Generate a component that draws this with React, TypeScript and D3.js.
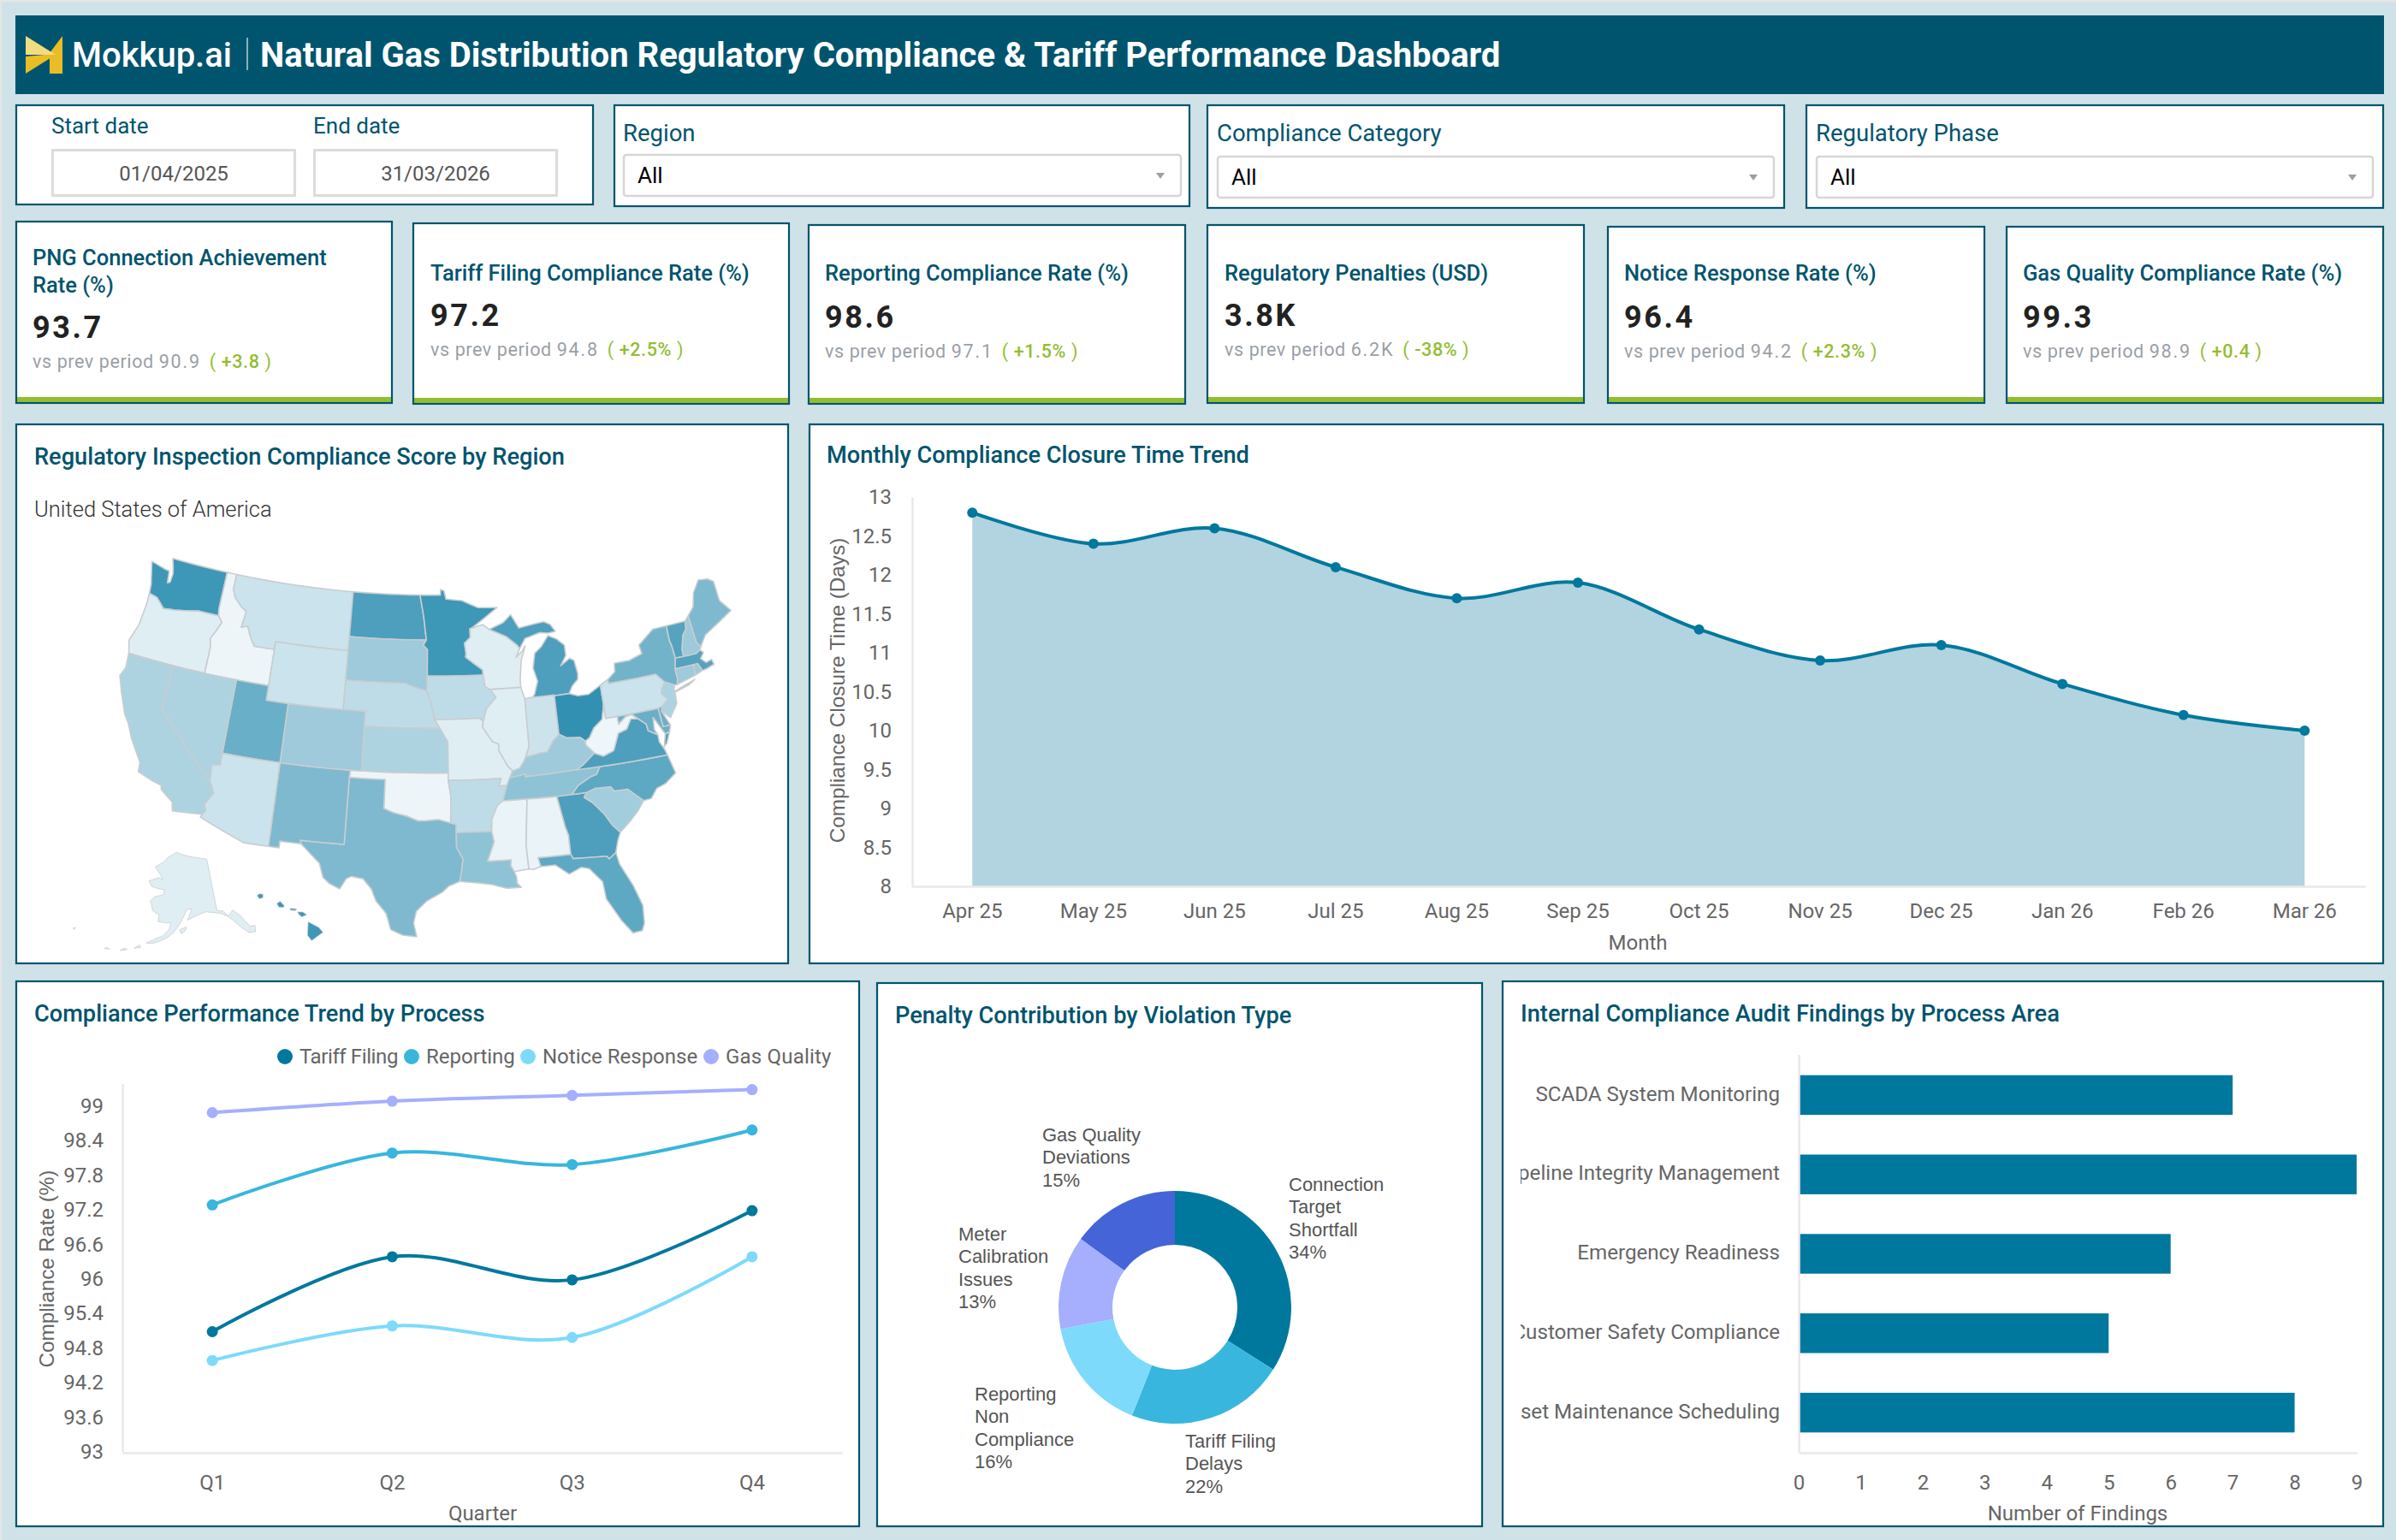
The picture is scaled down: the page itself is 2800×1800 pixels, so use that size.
import * as d3 from "d3";
import React, { useEffect, useRef } from "react";

// ---- data ----
const months = ["Apr 25", "May 25", "Jun 25", "Jul 25", "Aug 25", "Sep 25", "Oct 25", "Nov 25", "Dec 25", "Jan 26", "Feb 26", "Mar 26"];
const closureDays = [12.8, 12.4, 12.6, 12.1, 11.7, 11.9, 11.3, 10.9, 11.1, 10.6, 10.2, 10.0];
const closureTicks = [8, 8.5, 9, 9.5, 10, 10.5, 11, 11.5, 12, 12.5, 13];

const quarters = ["Q1", "Q2", "Q3", "Q4"];
const processNames = ["Tariff Filing", "Reporting", "Notice Response", "Gas Quality"];
const tariffFiling = [95.1, 96.4, 96.0, 97.2];
const reporting = [97.3, 98.2, 98.0, 98.6];
const noticeResponse = [94.6, 95.2, 95.0, 96.4];
const gasQuality = [98.9, 99.1, 99.2, 99.3];
const rateTicks = [93, 93.6, 94.2, 94.8, 95.4, 96, 96.6, 97.2, 97.8, 98.4, 99];

const violationLabels = [
  ["Connection", "Target", "Shortfall"],
  ["Tariff Filing", "Delays"],
  ["Reporting", "Non", "Compliance"],
  ["Meter", "Calibration", "Issues"],
  ["Gas Quality", "Deviations"],
];
const penaltyShare = [34, 22, 16, 13, 15];

const processAreas = ["SCADA System Monitoring", "Pipeline Integrity Management", "Emergency Readiness", "Customer Safety Compliance", "Asset Maintenance Scheduling"];
const findings = [7, 9, 6, 5, 8];
const findingTicks = [0, 1, 2, 3, 4, 5, 6, 7, 8, 9];

const kpiTitles = [
  ["PNG Connection Achievement", "Rate (%)"],
  ["Tariff Filing Compliance Rate (%)"],
  ["Reporting Compliance Rate (%)"],
  ["Regulatory Penalties (USD)"],
  ["Notice Response Rate (%)"],
  ["Gas Quality Compliance Rate (%)"],
];
const kpiValues = ["93.7", "97.2", "98.6", "3.8K", "96.4", "99.3"];
const kpiPrevious = ["90.9", "94.8", "97.1", "6.2K", "94.2", "98.9"];
const kpiChanges = ["+3.8", "+2.5%", "+1.5%", "-38%", "+2.3%", "+0.4"];

const stateCodes = ["WA", "OR", "ID", "MT", "WY", "ND", "SD", "NE", "KS", "OK", "TX", "NM", "CO", "UT", "AZ", "NV", "CA", "MN", "IA", "MO", "AR", "LA", "WI", "IL", "IN", "MI", "OH", "KY", "TN", "MS", "AL", "GA", "FL", "SC", "NC", "VA", "WV", "PA", "NY", "VT", "NH", "ME", "MA", "RI", "CT", "NJ", "DE", "MD", "AK", "HI"];
const stateScores = [95.3, 85, 84.1, 86.3, 86.3, 94.3, 89.2, 87.1, 88.2, 84.1, 91.2, 91.2, 89.2, 92.4, 86.3, 88.2, 88.2, 95.3, 87.1, 85, 87.1, 90.2, 85, 85, 86.2, 94.3, 96, 89.2, 90.2, 84.3, 84.3, 94.3, 93.3, 88.9, 93.3, 94.3, 84, 86.3, 92, 93.9, 89.2, 91.2, 93.9, 89.2, 89.2, 88.2, 92.4, 92.4, 85, 95.3];

// state outlines, simplified, as west longitude + latitude ("|" separates islands)
const stateShapes: Record<string, string> = {
  WA: "124.7 48.4,123.2 48.15,122.75 48.1,122.6 47.3,122.35 47.4,122.3 48,122.5 48.5,122.75 49,117.03 49,117.04 46.42,116.92 45.99,118.98 46,119.3 45.93,121.2 45.65,122.3 45.55,122.8 45.9,123.2 46.15,124 46.27,124.1 46.9",
  OR: "124 46.27,123.2 46.15,122.8 45.9,122.3 45.55,121.2 45.65,119.3 45.93,118.98 46,116.92 45.99,116.46 45.6,116.85 44.95,117.22 44.35,117.03 43.8,117.03 42,124.21 42,124.55 42.84,124.1 44,123.96 45.5",
  ID: "117.03 49,116.05 49,116.05 47.98,115.72 47.44,114.95 46.93,114.35 46.65,114.55 45.56,113.95 45.7,113.45 44.95,113 44.45,111.05 44.47,111.05 42,117.03 42,117.03 43.8,117.22 44.35,116.85 44.95,116.46 45.6,116.92 45.99,117.04 46.42",
  MT: "116.05 49,104.05 49,104.05 45,111.05 45,111.05 44.47,113 44.45,113.45 44.95,113.95 45.7,114.55 45.56,114.35 46.65,114.95 46.93,115.72 47.44,116.05 47.98",
  WY: "111.05 45,104.05 45,104.05 41,111.05 41",
  ND: "104.05 49,97.23 49,96.85 47.6,96.56 45.94,104.05 45.94",
  SD: "104.05 45.94,96.56 45.94,96.85 45.6,96.45 45.3,96.45 43.5,96.5 42.5,97.9 42.8,98.5 43,104.05 43",
  NE: "104.05 43,98.5 43,97.9 42.8,96.5 42.5,96.1 41.7,95.9 41,95.77 40.58,95.31 40,102.05 40,102.05 41,104.05 41",
  KS: "102.05 40,95.31 40,94.62 39.1,94.62 37,102.05 37",
  OK: "103 37,94.62 37,94.62 36.5,94.43 35.4,94.48 33.64,95.5 33.88,96.5 33.8,97.2 33.8,98.1 34.1,99.2 34.3,100 34.56,100 36.5,103.04 36.5",
  TX: "103.04 36.5,100 36.5,100 34.56,99.2 34.3,98.1 34.1,97.2 33.8,96.5 33.8,95.5 33.88,94.48 33.64,94.04 33.55,94.04 33,94.04 32,93.55 31.2,93.7 30.3,93.85 29.7,94.7 29.4,95.2 29,96.4 28.4,97.2 27.7,97.4 26.9,97.15 25.96,98.2 26.05,99.1 26.4,99.5 27.5,100.3 28.3,100.7 29.1,101.4 29.77,102.3 29.88,102.7 29.7,103.15 28.98,104 29.3,104.5 29.65,104.9 30.6,106.5 31.78,106.6 32,103.06 32",
  NM: "109.05 37,103 37,103.04 36.5,103.06 32,106.6 32,106.5 31.78,108.2 31.78,108.2 31.33,109.05 31.33",
  CO: "109.05 41,102.05 41,102.05 37,109.05 37",
  UT: "114.05 42,111.05 42,111.05 41,109.05 41,109.05 37,114.05 37",
  AZ: "114.05 37,109.05 37,109.05 31.33,111.07 31.33,114.81 32.5,114.72 32.72,114.5 33,114.72 33.4,114.13 34.26,114.63 35,114.75 36.1,114.05 36.2",
  NV: "120 42,114.05 42,114.05 36.2,114.75 36.1,114.63 35,120 39",
  CA: "124.21 42,120 42,120 39,114.63 35,114.13 34.26,114.72 33.4,114.5 33,114.72 32.72,117.13 32.53,117.3 33.1,118.4 33.75,118.5 34.03,119.2 34.15,120.6 34.55,120.65 35.15,121.9 36.6,122.5 37.5,123 38,123.8 39.3,124.4 40.4,124.1 41",
  MN: "97.23 49,95.15 49,95.15 49.38,94.8 49.3,94.6 48.72,93 48.6,91.4 48.07,89.5 48,92 46.75,92.29 46.66,92.29 46.07,92.87 45.7,92.75 45,92.8 44.75,91.25 43.85,91.22 43.5,96.45 43.5,96.45 45.3,96.85 45.6,96.56 45.94,96.85 47.6",
  IA: "96.45 43.5,91.22 43.5,91.1 42.7,90.64 42.5,90.15 41.95,91.1 41.2,91.42 40.38,91.73 40.61,95.77 40.58,95.9 41,96.1 41.7,96.5 42.5",
  MO: "95.77 40.58,91.73 40.61,91.42 40.38,91.5 40,90.7 39,90.15 38.8,90.2 38.4,89.5 37.3,89.1 36.95,89.4 36.5,89.7 36,90.37 36,90.15 36.5,94.62 36.5,94.62 39.1,95.31 40",
  AR: "94.62 36.5,90.15 36.5,90.37 36,89.7 36,90.1 35,90.6 34.7,91.1 33.8,91.17 33,94.04 33,94.04 33.55,94.48 33.64,94.43 35.4",
  LA: "94.04 33,91.17 33,91 32.3,91.6 31,89.73 31,89.8 30.6,89.55 30.2,89.4 29.8,89.4 29.4,89.1 29.1,90.2 29.1,91.3 29.4,92.3 29.55,93.85 29.7,93.7 30.3,93.55 31.2,94.04 32",
  MS: "90.1 35,88.2 35,88.1 34.9,88.47 31.9,88.4 30.3,89.55 30.2,89.8 30.6,89.73 31,91.6 31,91 32.3,91.17 33,91.1 33.8,90.6 34.7",
  AL: "88.2 35,85.6 34.98,85.18 32.87,85 32.3,85 31,87.6 31,87.45 30.4,88 30.25,88.4 30.3,88.47 31.9,88.1 34.9",
  GA: "85.6 34.98,83.1 35,83.35 34.7,82.75 34.3,81.9 33.4,81.4 32.6,80.85 32.03,81.15 31.5,81.45 30.72,82.05 30.36,82.2 30.57,84.86 30.7,85 31,85 32.3,85.18 32.87",
  FL: "87.6 31,85 31,84.86 30.7,82.2 30.57,82.05 30.36,81.45 30.72,81.3 29.9,80.55 28.4,80.05 26.9,80.15 25.7,80.4 25.2,81.1 25.15,81.8 26.1,82.7 27.7,82.8 28.9,83.7 29.9,84.3 30.05,85.3 29.7,86.3 30.4,87.45 30.4",
  SC: "83.1 35,82.3 35.2,81.05 35.15,80.8 34.82,79.67 34.8,78.55 33.86,79.2 33.2,80 32.6,80.85 32.03,81.4 32.6,81.9 33.4,82.75 34.3,83.35 34.7",
  NC: "84.32 35,83.1 35,82.3 35.2,81.05 35.15,80.8 34.82,79.67 34.8,78.55 33.86,77.9 33.9,77.3 34.5,76.5 34.7,75.5 35.25,75.85 36.55,81.68 36.59,82.05 36.1,82.6 36,83.7 35.55",
  TN: "90.1 35,88.2 35,85.6 34.98,84.32 35,83.7 35.55,82.6 36,82.05 36.1,81.68 36.59,83.68 36.6,88.07 36.5,88.07 36.68,89.4 36.5,89.7 36",
  KY: "89.4 36.5,88.07 36.68,88.07 36.5,83.68 36.6,83.1 36.85,81.97 37.54,82.6 38.17,82.6 38.42,83 38.7,84.2 38.8,84.82 39.1,85.4 38.7,86 38,86.5 38,87.9 37.8,88.1 37.5,88.5 37.1,89.1 36.95",
  VA: "83.68 36.6,81.68 36.59,75.85 36.55,76 37,76.3 37.5,76.3 38,77.05 38.4,77.1 38.85,77.72 39.32,78.35 39.4,78.87 38.77,79.65 38.6,80.3 37.5,81.25 37.25,81.97 37.54,83.1 36.85|75.95 37.15,75.65 37.95,75.25 38.03,75.7 37.3",
  WV: "81.97 37.54,81.25 37.25,80.3 37.5,79.65 38.6,78.87 38.77,78.35 39.4,77.72 39.32,78.2 39.68,78.8 39.6,79.48 39.21,79.48 39.72,80.52 39.72,80.52 40.64,80.85 39.7,81.7 39.2,82.2 38.6,82.6 38.42,82.6 38.17",
  OH: "84.82 41.7,83.45 41.73,82.7 41.5,81.7 41.5,80.52 41.98,80.52 40.64,80.85 39.7,81.7 39.2,82.2 38.6,82.6 38.42,83 38.7,84.2 38.8,84.82 39.1",
  IN: "87.52 41.71,87.2 41.75,86.8 41.76,84.82 41.76,84.82 39.1,85.4 38.7,86 38,86.5 38,87.9 37.8,87.53 38.5,87.53 39.35",
  IL: "90.64 42.5,87.8 42.5,87.6 41.9,87.52 41.71,87.53 39.35,87.53 38.5,87.9 37.8,88.1 37.5,88.5 37.1,89.1 36.95,89.5 37.3,90.2 38.4,90.15 38.8,90.7 39,91.5 40,91.42 40.38,91.1 41.2,90.15 41.95",
  WI: "92.29 46.66,91 46.9,90.4 46.55,88.8 46,87.8 45.35,87.6 45.1,88 44.55,87.4 44.9,87.05 45.25,87.55 44.3,87.8 43,87.8 42.5,90.64 42.5,91.1 42.7,91.22 43.5,91.25 43.85,92.8 44.75,92.75 45,92.87 45.7,92.29 46.07",
  MI: "86.8 41.76,84.82 41.76,84.82 41.7,83.45 41.73,83.1 42.2,82.5 42.6,82.42 43,82.6 43.9,83 44.07,83.9 43.65,83.3 44.3,83.3 45,84 45.5,84.75 45.78,85.5 45.1,86.2 44.7,86.5 43.7,86.2 42.8,86.6 41.95|90.4 46.55,89 46.95,88.2 47.45,87.5 46.5,86.2 46.65,85 46.75,84.4 46.5,84 46,84.75 45.95,85.5 46.05,86.5 45.85,87 45.75,87.6 45.1,87.8 45.35,88.8 46",
  PA: "80.52 41.98,79.76 42.27,79.76 42,75.35 42,74.7 41.35,75.1 40.95,75.2 40.65,74.75 40.2,75.4 39.8,75.8 39.72,79.48 39.72,80.52 39.72",
  NY: "79.76 42.27,79 42.7,78.9 43.27,77.5 43.27,76.2 43.55,76.3 44.15,74.7 45,73.35 45.01,73.4 44,73.3 43.6,73.25 42.75,73.5 42.05,73.5 41.3,73.65 41,73.9 41,74.7 41.35,75.35 42,79.76 42|74 40.6,72 41.05,72.6 40.8,73.9 40.55",
  VT: "73.35 45.01,71.5 45.01,71.6 44.5,72.05 44.1,72.45 43.2,72.46 42.73,73.25 42.75,73.3 43.6,73.4 44",
  NH: "71.5 45.01,71.08 45.3,70.98 43.4,70.7 43.07,70.85 42.87,71.3 42.7,72.46 42.73,72.45 43.2,72.05 44.1,71.6 44.5",
  ME: "71.08 45.3,70.4 45.8,70 46.7,69.2 47.45,68.3 47.35,67.8 47.07,67.78 45.7,67 44.85,68.5 44.3,70 43.75,70.7 43.07,70.98 43.4",
  MA: "73.5 42.05,73.25 42.75,72.46 42.73,71.3 42.7,70.85 42.87,70.6 42.65,71 42.3,70.6 41.95,70.05 42.05,69.95 41.7,70.65 41.55,71.12 41.5,71.38 42.02,71.8 42.02",
  RI: "71.8 42.02,71.38 42.02,71.12 41.5,71.85 41.32",
  CT: "73.5 42.05,71.8 42.02,71.85 41.32,73.65 41,73.5 41.3",
  NJ: "74.7 41.35,73.9 41,74.05 40.7,74 40.45,74.1 39.75,74.9 38.95,75.55 39.5,75.4 39.8,74.75 40.2,75.2 40.65,75.1 40.95",
  DE: "75.8 39.72,75.4 39.8,75.55 39.5,75.05 38.45,75.7 38.46",
  MD: "79.48 39.72,75.8 39.72,75.7 38.46,75.05 38.45,75.25 38.03,75.65 37.95,76.2 38.9,76.4 39.2,76.5 38.4,76.3 38,77.05 38.4,77.1 38.85,77.72 39.32,78.2 39.68,78.8 39.6,79.48 39.21",
  AK: "141 69.65,141 60.3,139 60,137.5 58.9,135.5 59.7,133.5 58.4,131.5 56,130 55.9,130.5 54.8,132.5 55,134.5 56.5,136.5 58.1,138 59,140 59.7,142 60,145 60.4,148 60,149.5 59.7,151.8 59.2,150 61.2,152 61,153.5 59.5,154.5 58.5,156.5 57,158.5 56,161 55.2,163 54.7,164.8 54.6,162 55.7,160 56.2,158 57.5,157.5 58.7,159 58.6,162 58.7,162 59.9,164.5 60.5,165.2 61.5,166 62,164.5 63,161 63.6,161 64.5,163 64.5,166.5 64.7,168 65.6,164 66.5,162 66.2,163.7 67.1,166.5 68.3,163 69.3,161 70.3,156.6 71.35,152 70.8,148 70.4,144 70|154.5 57.5,152.3 58,152.6 57.3,154 56.8|168.2 53.3,166.2 53.7,166.8 54|172 52.3,170 52.8,171 52.9|176.5 51.8,175 52,176 52.1|187.2 52.9,186.6 53.1,186.9 52.7",
  HI: "159.75 22.1,159.55 22.23,159.3 22.2,159.3 21.95,159.55 21.88|158.25 21.55,158 21.7,157.7 21.4,157.75 21.27,158.1 21.3|157.25 21.2,156.75 21.17,156.85 21.05,157.25 21.08|156.7 20.95,156.3 20.95,156 20.75,156.4 20.6,156.6 20.8|155.9 20.25,155.1 19.85,154.8 19.5,155.65 18.92,155.95 19.3",
};

// ---- colours ----
const TEAL = "#00546e";
const DEEP = "#00789e";
const seriesColors = [DEEP, "#38b6dd", "#7ddafa", "#a5affe"];
const sliceColors = [DEEP, "#38b6dd", "#7ddafa", "#a5affe", "#4464d8"];
const GREY = "#666666";
const AXIS = "#e8e8e8";
const ROBOTO = "Roboto, sans-serif";
const LIBERATION = "'Liberation Sans', sans-serif";

// ---- page layout (x0, y0, x1, y1) ----
const kpiBoxes = [
  [18, 258, 459, 472],
  [482, 260, 923, 473],
  [944, 262, 1386, 473],
  [1410, 262, 1852, 472],
  [1878, 264, 2320, 472],
  [2344, 264, 2786, 472],
];
const kpiRows = [
  { x: 38, title: 310, value: 395, sub: 430 },
  { x: 503, title: 328, value: 381, sub: 416 },
  { x: 964, title: 328, value: 383, sub: 418 },
  { x: 1431, title: 328, value: 381, sub: 416 },
  { x: 1898, title: 328, value: 383, sub: 418 },
  { x: 2364, title: 328, value: 383, sub: 418 },
];
const dropBoxes = [
  { label: "Region", x0: 717, x1: 1391, y1: 242, labelX: 728, boxX: 729, boxX1: 1380, boxY: 181, boxY1: 229, baseline: 165 },
  { label: "Compliance Category", x0: 1410, x1: 2086, y1: 244, labelX: 1422, boxX: 1423, boxX1: 2073, boxY: 183, boxY1: 231, baseline: 165 },
  { label: "Regulatory Phase", x0: 2110, x1: 2786, y1: 244, labelX: 2122, boxX: 2123, boxX1: 2773, boxY: 183, boxY1: 231, baseline: 165 },
];
const donutLabelAnchors = [
  [1506, 1392],
  [1385, 1692],
  [1139, 1637],
  [1120, 1450],
  [1218, 1334],
];

type Sel = d3.Selection<any, unknown, null, undefined>;

const label = (
  g: Sel,
  x: number,
  y: number,
  str: string,
  size: number,
  fill: string,
  weight: number | string = 400,
  family: string = ROBOTO,
  anchor: string = "start",
) =>
  g
    .append("text")
    .attr("x", x)
    .attr("y", y)
    .attr("text-anchor", anchor)
    .attr("fill", fill)
    .style("font-family", family)
    .style("font-size", `${size}px`)
    .style("font-weight", weight)
    .text(str);

const panel = (g: Sel, x0: number, y0: number, x1: number, y1: number) =>
  g
    .append("rect")
    .attr("x", x0 + 1)
    .attr("y", y0 + 1)
    .attr("width", x1 - x0 - 2)
    .attr("height", y1 - y0 - 2)
    .attr("fill", "#ffffff")
    .attr("stroke", TEAL)
    .attr("stroke-width", 2.2);

const styleAxis = (axis: Sel, size = 24) => {
  axis.select(".domain").attr("stroke", AXIS).attr("stroke-width", 2.5);
  axis.selectAll("line").remove();
  axis
    .selectAll("text")
    .attr("fill", GREY)
    .style("font-family", ROBOTO)
    .style("font-size", `${size}px`);
};

const rotatedTitle = (g: Sel, x: number, y: number, str: string) =>
  g
    .append("text")
    .attr("transform", `translate(${x},${y}) rotate(-90)`)
    .attr("text-anchor", "middle")
    .attr("dy", "0.35em")
    .attr("fill", GREY)
    .style("font-family", LIBERATION)
    .style("font-size", "24.3px")
    .text(str);

const App: React.FC = () => {
  const svgRef = useRef<SVGSVGElement>(null);

  useEffect(() => {
    if (!svgRef.current) return;
    document.body.style.margin = "0";
    const svg = d3.select(svgRef.current) as unknown as Sel;
    svg.selectAll("*").remove();

    svg.append("rect").attr("width", 2800).attr("height", 1800).attr("fill", "#e6e6e6");
    svg.append("rect").attr("x", 2).attr("y", 2).attr("width", 2798).attr("height", 1798).attr("fill", "#cfe2e8");

    // Header
    svg.append("rect").attr("x", 18).attr("y", 18).attr("width", 2768).attr("height", 92).attr("fill", TEAL);
    svg.append("path").attr("d", "M58,62 L73,42 L73,86 L58,86 Z").attr("fill", "#e9bd26");
    svg.append("path").attr("d", "M30,42 L65,64 L30,64 Z").attr("fill", "#f2dc80");
    svg.append("path").attr("d", "M30,86 L30,66 L52,64 L65,64 Z").attr("fill", "#e9bd26");
    label(svg, 84, 78, "Mokkup.ai", 40, "#ffffff", 500);
    svg.append("line").attr("x1", 289).attr("x2", 289).attr("y1", 44).attr("y2", 82).attr("stroke", "#b8cfd7").attr("stroke-width", 1.5);
    label(svg, 304, 78, "Natural Gas Distribution Regulatory Compliance & Tariff Performance Dashboard", 40, "#ffffff", 700);

    // Date filter
    panel(svg, 18, 122, 694, 240);
    label(svg, 60, 156, "Start date", 26, TEAL);
    label(svg, 366, 156, "End date", 26, TEAL);
    [
      [60, "01/04/2025"],
      [366, "31/03/2026"],
    ].forEach(([x, d]) => {
      svg.append("rect").attr("x", +x + 1.5).attr("y", 175.5).attr("width", 283).attr("height", 53).attr("fill", "#fff").attr("stroke", "#dcdcdc").attr("stroke-width", 3);
      label(svg, +x + 143, 211, String(d), 24, "#555555", 400, ROBOTO, "middle");
    });

    // Dropdown filters
    dropBoxes.forEach((b) => {
      panel(svg, b.x0, 122, b.x1, b.y1);
      label(svg, b.labelX, b.baseline, b.label, 27.5, TEAL);
      svg.append("rect").attr("x", b.boxX).attr("y", b.boxY).attr("width", b.boxX1 - b.boxX).attr("height", b.boxY1 - b.boxY).attr("rx", 3).attr("fill", "#fff").attr("stroke", "#d6d6d6").attr("stroke-width", 2.5);
      label(svg, b.boxX + 16, b.boxY + 33, "All", 26, "#000000");
      const ax = b.boxX1 - 24;
      const ay = (b.boxY + b.boxY1) / 2;
      svg.append("path").attr("d", `M${ax - 5},${ay - 3} L${ax + 5},${ay - 3} L${ax},${ay + 4} Z`).attr("fill", "#9aa0a6");
    });

    // KPI cards
    kpiBoxes.forEach(([x0, y0, x1, y1], i) => {
      const row = kpiRows[i];
      panel(svg, x0, y0, x1, y1);
      svg.append("rect").attr("x", x0 + 2).attr("y", y1 - 8).attr("width", x1 - x0 - 4).attr("height", 6).attr("fill", "#93bd31");
      kpiTitles[i].forEach((line, n) => label(svg, row.x, row.title + n * 32, line, 25.5, TEAL, 500));
      label(svg, row.x, row.value, kpiValues[i], 36, "#222222", 700).style("letter-spacing", "2.6px");
      const sub = label(svg, row.x, row.sub, "", 21.5, "#9aa0a6").style("letter-spacing", "0.6px");
      sub.append("tspan").text("vs prev period ");
      sub.append("tspan").style("letter-spacing", "1.8px").text(kpiPrevious[i]);
      sub.append("tspan").attr("fill", "#93bd31").attr("dx", 10).text("( ");
      sub.append("tspan").attr("fill", "#93bd31").style("font-weight", 500).text(kpiChanges[i]);
      sub.append("tspan").attr("fill", "#93bd31").text(" )");
    });

    // Map panel
    panel(svg, 18, 495, 922, 1127);
    label(svg, 40, 543, "Regulatory Inspection Compliance Score by Region", 27.2, TEAL, 500);
    label(svg, 40, 604, "United States of America", 25.5, "#333333", 300);

    const defs = svg.append("defs");
    defs.append("filter").attr("id", "soft").append("feGaussianBlur").attr("stdDeviation", 0.7);

    const conus = d3.geoAlbers().scale(990).translate([497, 874]);
    const alaska = d3.geoConicEqualArea().rotate([154, 0]).center([-2, 58.5]).parallels([55, 65]).scale(375).translate([205, 1080]);
    const hawaii = d3.geoConicEqualArea().rotate([157, 0]).center([-3, 19.9]).parallels([8, 18]).scale(950).translate([296, 1083]);
    const projectionFor = (code: string) => {
      if (code === "AK") return alaska;
      if (code === "HI") return hawaii;
      return conus;
    };
    const scoreColor = d3.scaleLinear<string>().domain([84, 96]).range(["#eff6f9", "#3391b3"]);
    const ringLine = d3.line();
    const mapGroup = svg.append("g").attr("filter", "url(#soft)");
    stateCodes.forEach((code, i) => {
      const projection = projectionFor(code);
      const d = stateShapes[code]
        .split("|")
        .map((ring) => {
          const pts = ring.split(",").map((p) => {
            const [w, lat] = p.split(" ").map(Number);
            return [-w, lat] as [number, number];
          });
          // follow the parallels on long borders
          const dense: [number, number][] = [];
          pts.forEach((p, k) => {
            const q = pts[(k + 1) % pts.length];
            const steps = Math.max(Math.ceil(Math.abs(q[0] - p[0])), 1);
            d3.range(steps).forEach((s) => {
              const t = s / steps;
              dense.push([p[0] + (q[0] - p[0]) * t, p[1] + (q[1] - p[1]) * t]);
            });
          });
          return `${ringLine(dense.map((p) => projection(p) as [number, number]))}Z`;
        })
        .join("");
      mapGroup
        .append("path")
        .attr("d", d)
        .attr("fill", scoreColor(stateScores[i]))
        .attr("stroke", "#c8cdd0")
        .attr("stroke-width", code === "AK" || code === "HI" ? 0.8 : 1.6)
        .attr("stroke-linejoin", "round");
    });

    // Monthly closure area chart
    panel(svg, 945, 495, 2786, 1127);
    label(svg, 966, 541, "Monthly Compliance Closure Time Trend", 27.2, TEAL, 500);
    const monthX = d3.scaleBand().domain(months).range([1065.5, 2764]);
    const dayY = d3.scaleLinear().domain([8, 13]).range([1036, 581]);
    const monthCenter = (m: string) => monthX(m)! + monthX.bandwidth() / 2;
    const areaGen = d3
      .area<number>()
      .x((_, i) => monthCenter(months[i]))
      .y0(dayY(8))
      .y1((v) => dayY(v))
      .curve(d3.curveCatmullRom.alpha(0.5));
    const lineGen = d3
      .line<number>()
      .x((_, i) => monthCenter(months[i]))
      .y((v) => dayY(v))
      .curve(d3.curveCatmullRom.alpha(0.5));
    svg.append("path").attr("d", areaGen(closureDays)).attr("fill", "#b1d4e0");
    const dayAxisY = svg
      .append("g")
      .attr("transform", "translate(1066,0)")
      .call(d3.axisLeft(dayY).tickValues(closureTicks).tickSize(0).tickPadding(24).tickFormat((d) => String(d)) as any);
    styleAxis(dayAxisY);
    const dayAxisX = svg
      .append("g")
      .attr("transform", "translate(0,1036)")
      .call(d3.axisBottom(monthX).tickSize(0).tickPadding(19.5) as any);
    styleAxis(dayAxisX);
    svg.append("path").attr("d", lineGen(closureDays)).attr("fill", "none").attr("stroke", DEEP).attr("stroke-width", 4);
    svg
      .append("g")
      .selectAll("circle")
      .data(closureDays)
      .join("circle")
      .attr("cx", (_, i) => monthCenter(months[i]))
      .attr("cy", (v) => dayY(v))
      .attr("r", 6)
      .attr("fill", DEEP);
    rotatedTitle(svg, 978, 807, "Compliance Closure Time (Days)");
    label(svg, 1914, 1110, "Month", 24, GREY, 400, ROBOTO, "middle");

    // Process trend line chart
    panel(svg, 18, 1146, 1005, 1785);
    label(svg, 40, 1194, "Compliance Performance Trend by Process", 27.2, TEAL, 500);
    const quarterX = d3.scaleBand().domain(quarters).range([143, 984]);
    const rateY = d3.scaleLinear().domain([93, 99.39]).range([1698, 1267.5]);
    const quarterCenter = (q: string) => quarterX(q)! + quarterX.bandwidth() / 2;
    const rateAxisY = svg
      .append("g")
      .attr("transform", "translate(143,-1)")
      .call(d3.axisLeft(rateY).tickValues(rateTicks).tickSize(0).tickPadding(22).tickFormat((d) => String(d)) as any);
    styleAxis(rateAxisY);
    const rateAxisX = svg
      .append("g")
      .attr("transform", "translate(0,1698)")
      .call(d3.axisBottom(quarterX).tickSize(0).tickPadding(26) as any);
    styleAxis(rateAxisX);
    const rateLine = d3
      .line<number>()
      .x((_, i) => quarterCenter(quarters[i]))
      .y((v) => rateY(v))
      .curve(d3.curveCatmullRom.alpha(0.5));
    [tariffFiling, reporting, noticeResponse, gasQuality].forEach((series, s) => {
      svg.append("path").attr("d", rateLine(series)).attr("fill", "none").attr("stroke", seriesColors[s]).attr("stroke-width", 4);
      svg
        .append("g")
        .selectAll("circle")
        .data(series)
        .join("circle")
        .attr("cx", (_, i) => quarterCenter(quarters[i]))
        .attr("cy", (v) => rateY(v))
        .attr("r", 6.5)
        .attr("fill", seriesColors[s]);
    });
    [333, 481, 617, 831].forEach((x, s) => {
      svg.append("circle").attr("cx", x).attr("cy", 1235).attr("r", 9).attr("fill", seriesColors[s]);
      label(svg, x + 17, 1243, processNames[s], 24, GREY).style("letter-spacing", s === 0 ? "-0.4px" : s === 3 ? "0.2px" : "0");
    });
    rotatedTitle(svg, 54, 1483, "Compliance Rate (%)");
    label(svg, 564, 1777, "Quarter", 24, GREY, 400, ROBOTO, "middle");

    // Penalty donut
    panel(svg, 1024, 1148, 1733, 1785);
    label(svg, 1046, 1196, "Penalty Contribution by Violation Type", 27.2, TEAL, 500);
    const pie = d3.pie<number>().sort(null)(penaltyShare);
    const arc = d3.arc<d3.PieArcDatum<number>>().innerRadius(73).outerRadius(136);
    const donut = svg.append("g").attr("transform", "translate(1373,1528)");
    donut
      .selectAll("path")
      .data(pie)
      .join("path")
      .attr("d", arc)
      .attr("fill", (_, i) => sliceColors[i]);
    violationLabels.forEach((lines, i) => {
      const [x, y] = donutLabelAnchors[i];
      [...lines, `${penaltyShare[i]}%`].forEach((line, n) => label(svg, x, y + n * 26.4, line, 22, "#555555", 400, LIBERATION));
    });

    // Audit findings bars
    panel(svg, 1755, 1146, 2786, 1785);
    label(svg, 1777, 1194, "Internal Compliance Audit Findings by Process Area", 27.2, TEAL, 500);
    const findX = d3.scaleLinear().domain([0, 9]).range([2102, 2754]);
    const areaY = d3.scaleBand().domain(processAreas).range([1233.5, 1697.5]).paddingInner(0.5).paddingOuter(0.25);
    svg
      .append("g")
      .selectAll("rect")
      .data(findings)
      .join("rect")
      .attr("x", findX(0))
      .attr("y", (_, i) => areaY(processAreas[i])!)
      .attr("width", (v) => findX(v) - findX(0))
      .attr("height", areaY.bandwidth())
      .attr("fill", DEEP);
    const findAxisX = svg
      .append("g")
      .attr("transform", "translate(0,1698)")
      .call(d3.axisBottom(findX).tickValues(findingTicks).tickSize(0).tickPadding(26).tickFormat((d) => String(d)) as any);
    styleAxis(findAxisX);
    const findAxisY = svg
      .append("g")
      .attr("transform", "translate(2102,-1)")
      .attr("clip-path", "url(#barLabelsLocal)")
      .call(d3.axisLeft(areaY).tickSize(0).tickPadding(22) as any);
    styleAxis(findAxisY, 24.15);
    defs.append("clipPath").attr("id", "barLabelsLocal").append("rect").attr("x", 1777 - 2102).attr("y", 1200).attr("width", 340).attr("height", 520);
    label(svg, 2428, 1777, "Number of Findings", 24, GREY, 400, ROBOTO, "middle");
  }, []);

  return <svg ref={svgRef} width={2800} height={1800} style={{ position: "absolute", left: 0, top: 0, display: "block" }} />;
};

export default App;
